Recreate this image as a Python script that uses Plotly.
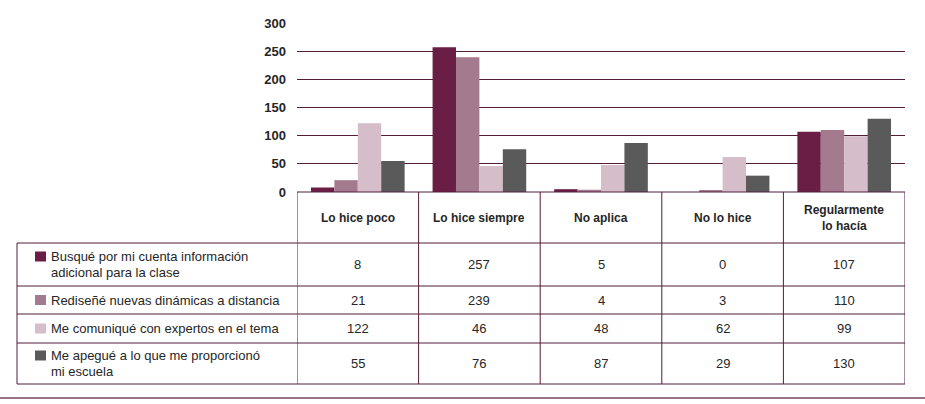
import plotly.graph_objects as go

categorias = ["Lo hice poco", "Lo hice siempre", "No aplica", "No lo hice", "Regularmente<br>lo hacía"]
series = [
    "Busqué por mi cuenta información<br>adicional para la clase",
    "Rediseñé nuevas dinámicas a distancia",
    "Me comuniqué con expertos en el tema",
    "Me apegué a lo que me proporcionó<br>mi escuela",
]
busque = [8, 257, 5, 0, 107]
redisene = [21, 239, 4, 3, 110]
comunique = [122, 46, 48, 62, 99]
apegue = [55, 76, 87, 29, 130]
valores = [busque, redisene, comunique, apegue]
colores = ["#6a1e46", "#a47a8f", "#d5bdc9", "#5a5a5a"]
y_ticks = [0, 50, 100, 150, 200, 250, 300]

LINEA = "#531c3b"
TEXTO = "#262626"
FUENTE = "Liberation Sans, Arial, sans-serif"

W, H = 925, 404
ML, MR, MT, MB = 297, 20, 23, 212
PW = W - ML - MR
PH = H - MT - MB


def xp(px):
    return (px - ML) / PW


def yp(py):
    return (H - MB - py) / PH


fig = go.Figure()
for nombre, vals, color in zip(series, valores, colores):
    fig.add_trace(go.Bar(
        x=list(range(len(categorias))),
        y=vals,
        name=nombre,
        marker=dict(color=color, line=dict(width=0)),
        showlegend=False,
        hoverinfo="skip"))

# filas de la tabla (pixeles en y)
filas = [(243, 286), (286, 314), (314, 343), (343, 384)]
tope_tabla = 192
izq_tabla = 17
interlinea = 16

shapes = []
anotaciones = []


def texto(x, y, t, xref="paper", size=13, bold=False, xanchor="center"):
    if bold:
        t = "<b>" + t + "</b>"
    anotaciones.append(dict(xref=xref, yref="paper", x=x, y=y, text=t, showarrow=False,
                            xanchor=xanchor, yanchor="middle",
                            font=dict(family=FUENTE, size=size, color=TEXTO)))


def hline(y, x0=izq_tabla):
    shapes.append(dict(type="line", xref="paper", yref="paper", x0=xp(x0), x1=1,
                       y0=yp(y), y1=yp(y), line=dict(color=LINEA, width=1)))


# marco y lineas horizontales
hline(tope_tabla, 297)
for top, bot in filas:
    hline(top)
hline(filas[-1][1])
shapes.append(dict(type="line", xref="paper", yref="paper", x0=xp(izq_tabla), x1=xp(izq_tabla),
                   y0=yp(filas[0][0]), y1=yp(filas[-1][1]), line=dict(color=LINEA, width=1)))
for i in range(len(categorias) + 1):
    shapes.append(dict(type="line", xref="x", yref="paper", x0=i - 0.5, x1=i - 0.5,
                       y0=yp(tope_tabla), y1=yp(filas[-1][1]), line=dict(color=LINEA, width=1)))

# linea inferior de la pagina
shapes.append(dict(type="line", xref="paper", yref="paper", x0=xp(0), x1=xp(925),
                   y0=yp(398), y1=yp(398), line=dict(color="#9c6f88", width=2)))

# encabezados
centro_enc = (tope_tabla + filas[0][0]) / 2
for i, cat in enumerate(categorias):
    lineas = cat.split("<br>")
    y0 = centro_enc - (len(lineas) - 1) * interlinea / 2
    for k, ln in enumerate(lineas):
        texto(i, yp(y0 + k * interlinea), ln, xref="x", size=12, bold=True)

# filas con leyenda y valores
for (top, bot), nombre, vals, color in zip(filas, series, valores, colores):
    centro = (top + bot) / 2
    lineas = nombre.split("<br>")
    y0 = centro - (len(lineas) - 1) * interlinea / 2
    shapes.append(dict(type="rect", xref="paper", yref="paper", x0=xp(35), x1=xp(46),
                       y0=yp(y0 - 5), y1=yp(y0 + 5), fillcolor=color, line=dict(width=0)))
    for k, ln in enumerate(lineas):
        texto(xp(49), yp(y0 + k * interlinea), ln, size=13, xanchor="left")
    for i, v in enumerate(vals):
        texto(i, yp(centro), str(v), xref="x", size=13)

fig.update_layout(
    width=W, height=H,
    margin=dict(l=ML, r=MR, t=MT, b=MB),
    paper_bgcolor="white", plot_bgcolor="white",
    barmode="group", bargap=0.23, bargroupgap=0,
    xaxis=dict(range=[-0.5, len(categorias) - 0.5], showticklabels=False, showgrid=False,
               zeroline=False, showline=False, fixedrange=True),
    yaxis=dict(range=[0, 300], tickvals=y_ticks, showgrid=True, gridcolor=LINEA, gridwidth=1,
               zeroline=False, showline=False, ticks="", ticklabelstandoff=10, fixedrange=True,
               tickfont=dict(family=FUENTE, size=13, color=TEXTO, weight="bold")),
    shapes=shapes,
    annotations=anotaciones,
)

# sin margen del body para que la figura ocupe toda la ventana
fig.write_html("out.html", config={"displayModeBar": False},
               post_script="document.body.style.margin='0';document.body.style.overflow='hidden';")
